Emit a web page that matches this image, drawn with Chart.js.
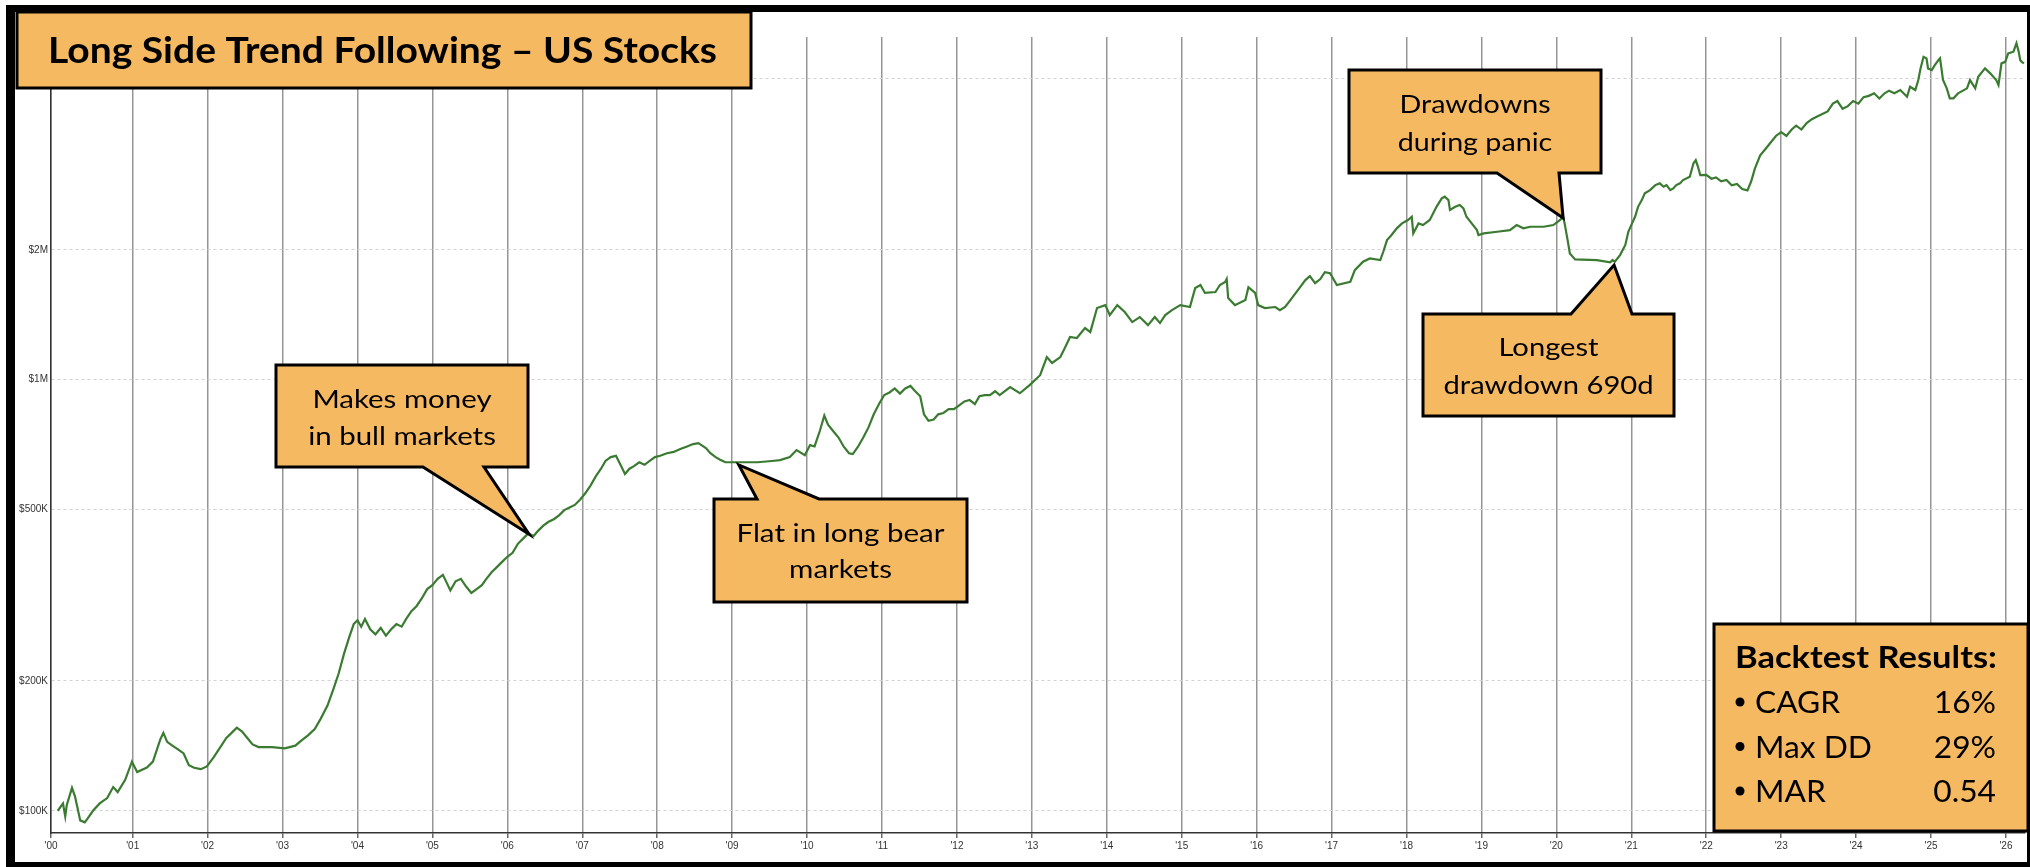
<!DOCTYPE html>
<html><head><meta charset="utf-8">
<script src="https://cdn.jsdelivr.net/npm/chart.js@4.4.1/dist/chart.umd.min.js"></script>
<style>
html,body{margin:0;padding:0;background:#fff;}
#wrap{position:absolute;left:0;top:0;width:2030px;height:867px;}
canvas{display:block;}
</style></head><body>
<div id="wrap"><canvas id="c" width="2030" height="867"></canvas></div>
<script>
// ---- data (decimal year, equity in $K) ----
const years = [
2000.00,2000.07,2000.10,2000.12,2000.19,2000.23,2000.30,2000.36,2000.40,2000.47,2000.56,2000.66,2000.74,2000.80,2000.90,2000.99,
2001.06,2001.19,2001.27,2001.37,2001.41,2001.46,2001.53,2001.61,2001.68,2001.75,2001.82,2001.91,2001.99,
2002.08,2002.17,2002.25,2002.32,2002.39,2002.46,2002.53,2002.60,2002.68,2002.86,
2003.03,2003.17,2003.25,2003.34,2003.43,2003.51,2003.60,2003.68,2003.75,2003.82,2003.89,2003.95,
2004.00,2004.05,2004.10,2004.17,2004.24,2004.31,2004.38,2004.45,2004.52,2004.59,2004.65,2004.72,2004.79,2004.86,2004.93,
2005.00,2005.07,2005.14,2005.19,2005.24,2005.31,2005.38,2005.45,2005.52,2005.59,2005.66,2005.72,2005.79,2005.86,2005.93,
2006.00,2006.07,2006.14,2006.21,2006.28,2006.35,2006.41,2006.48,2006.55,2006.62,2006.69,2006.76,2006.83,2006.90,2006.97,
2007.04,2007.11,2007.18,2007.25,2007.31,2007.38,2007.45,2007.52,2007.57,2007.63,2007.69,2007.76,2007.83,2007.90,2007.97,
2008.04,2008.13,2008.22,2008.30,2008.39,2008.48,2008.55,2008.65,2008.71,2008.78,2008.84,2008.91,
2009.00,2009.17,2009.34,2009.53,2009.64,2009.77,2009.86,2009.97,
2010.04,2010.10,2010.17,2010.23,2010.28,2010.35,2010.42,2010.49,2010.56,2010.61,2010.68,2010.75,2010.82,2010.89,2010.96,
2011.03,2011.10,2011.17,2011.24,2011.31,2011.38,2011.44,2011.51,2011.56,2011.62,2011.69,2011.75,2011.82,2011.89,2011.96,
2012.03,2012.10,2012.17,2012.24,2012.30,2012.37,2012.44,2012.51,2012.57,2012.71,2012.84,2012.97,
2013.11,2013.20,2013.27,2013.38,2013.44,2013.51,2013.60,2013.71,2013.78,2013.87,2013.98,
2014.04,2014.14,2014.24,2014.34,2014.44,2014.55,2014.64,2014.71,2014.78,2014.87,2014.98,
2015.11,2015.18,2015.25,2015.31,2015.45,2015.51,2015.58,2015.60,2015.62,2015.71,2015.85,2015.89,2015.98,
2016.02,2016.11,2016.25,2016.31,2016.38,2016.45,2016.58,2016.65,2016.71,2016.78,2016.85,2016.91,2016.98,
2017.07,2017.25,2017.31,2017.42,2017.51,2017.65,2017.69,2017.74,2017.80,2017.87,2017.94,
2018.02,2018.07,2018.09,2018.16,2018.22,2018.31,2018.40,2018.47,2018.51,2018.56,2018.58,2018.65,2018.71,2018.76,2018.80,2018.87,2018.94,2018.96,
2019.03,2019.21,2019.38,2019.47,2019.56,2019.65,2019.83,2019.96,
2020.05,2020.09,2020.11,2020.15,2020.18,2020.25,2020.54,2020.72,2020.75,2020.78,2020.85,2020.92,2020.96,
2021.01,2021.05,2021.09,2021.14,2021.18,2021.25,2021.32,2021.38,2021.43,2021.47,2021.52,2021.56,2021.60,2021.65,2021.69,2021.74,2021.78,2021.83,2021.86,2021.89,2021.92,
2022.00,2022.07,2022.13,2022.20,2022.27,2022.34,2022.41,2022.48,2022.55,2022.60,2022.65,2022.72,2022.79,2022.86,2022.93,
2023.00,2023.07,2023.14,2023.20,2023.27,2023.34,2023.41,2023.48,2023.55,2023.62,2023.69,2023.75,2023.82,2023.89,2023.96,
2024.03,2024.10,2024.17,2024.24,2024.31,2024.38,2024.44,2024.51,2024.59,2024.68,2024.72,2024.79,2024.83,2024.86,2024.90,2024.94,2024.96,
2025.01,2025.05,2025.10,2025.12,2025.16,2025.21,2025.25,2025.30,2025.36,2025.48,2025.52,2025.59,2025.63,2025.72,2025.79,2025.87,2025.90,2025.94,2025.99,
2026.03,2026.10,2026.14,2026.17,2026.19,2026.21,2026.24
];
const equityK = [
100,104,97,103,113,108,95,94,96,100,104,107,113.5,110.5,118,130,
123,126,130,146.5,151.6,144.5,141.6,138.6,135.8,127.6,125.8,124.9,126.7,
133,140.5,147.5,151.6,155.9,152.7,147.5,142.5,140.5,140.5,
139.5,141.6,145.5,149.6,154.8,163.6,175.4,191.8,208.4,231.2,252.9,271,
276.7,267.3,278.6,263.6,256.5,265.5,254.7,263.6,271,267.3,278.6,290.4,298.6,311.2,326.7,
333.6,345.2,352.5,338.2,324.5,340.6,345.2,331.2,320,326.7,333.6,345.2,357.4,367.4,377.9,
388.3,396.6,416.1,427.8,439.8,433.8,445.9,458.6,468.1,474.6,484.6,498.2,505.1,512.1,526.6,
545,567.9,596.3,621.5,647.7,661.3,665.8,630.1,604.5,621.5,630.1,643.3,634.5,647.7,661.3,
665.8,675.2,679.9,689.4,699,708.8,712.7,694.1,675.2,661.3,652.2,643.3,
643.3,643.3,643.3,647.7,650.7,661.3,686.5,668.2,
705,700,760,825,786,759,734,699,675,672,699,734,775,831,878,
921,934,954,928,954,967,941,915,831,803,808,831,837,854,854,
872,890,897,878,915,921,921,940,921,961,930,971,
1024,1128,1093,1128,1184,1256,1249,1317,1289,1466,1489,
1412,1489,1435,1360,1397,1338,1397,1353,1412,1450,1489,
1474,1631,1658,1589,1597,1658,1685,1712,1546,1489,1530,1639,1589,
1489,1466,1474,1450,1474,1530,1639,1702,1739,1675,1712,1776,1766,
1658,1687,1795,1877,1911,1894,1980,2107,2165,2244,2304,
2346,2387,2184,2304,2284,2346,2517,2633,2657,2609,2474,2517,2542,2497,2387,2304,2223,2165,
2184,2203,2223,2284,2244,2263,2263,2284,
2346,2387,2304,2107,1962,1901,1894,1871,1894,1877,1945,2053,2203,
2304,2387,2517,2609,2705,2752,2827,2853,2802,2827,2752,2777,2827,2853,2904,2931,2956,3176,3231,3117,2983,
2986,2925,2945,2885,2905,2825,2845,2767,2748,2885,3091,3313,3429,3550,3675,
3752,3675,3804,3884,3804,3938,4020,4077,4133,4191,4368,4429,4249,4310,4429,
4368,4522,4553,4616,4491,4616,4681,4616,4697,4531,4779,4697,4954,5272,5609,5563,5272,
5224,5367,5514,5563,4954,4739,4494,4494,4613,4739,4954,4739,5044,5272,5135,4954,4822,5416,5461,
5712,5763,6029,5763,5514,5461,5416
];
const yearTicks = [2001,2002,2003,2004,2005,2006,2007,2008,2009,2010,2011,2012,2013,2014,2015,2016,2017,2018,2019,2020,2021,2022,2023,2024,2025,2026];
const valueTicks = [100000,200000,500000,1000000,2000000,5000000];
const valueTickLabels = ['$100K','$200K','$500K','$1M','$2M','$5M'];
const titleText = 'Long Side Trend Following \u2013 US Stocks';
const statsTitle = 'Backtest Results:';
const statNames = ['CAGR','Max DD','MAR'];
const statValues = ['16%','29%','0.54'];
const callouts = [
  {lines:['Makes money','in bull markets'], fit:'Makes money', fitW:179, box:[276,365,528,467], side:'bottom', base:[423,484], tip:[2006.29,438000], base1:408, gap:37},
  {lines:['Flat in long bear','markets'], fit:'Flat in long bear', fitW:208, box:[714,499,967,602], side:'top', base:[757,819], tip:[2009.09,634000], base1:542, gap:36},
  {lines:['Drawdowns','during panic'], fit:'Drawdowns', fitW:151, box:[1349,70,1601,173], side:'bottom', base:[1497,1559], tip:[2020.09,2371000], base1:113, gap:38},
  {lines:['Longest','drawdown 690d'], fit:'drawdown 690d', fitW:210, box:[1423,314,1674,416], side:'top', base:[1571,1632], tip:[2020.77,1844000], base1:356, gap:38}
];

const BOX_FILL = '#F5BA61';
const FONT = 'Lato, "Open Sans", sans-serif';
const CAP = 0.7165; // Lato cap-height ratio

// font size from cap height, horizontal squeeze from target width
function textStyle(ctx, weight, capH, refText, refW){
  const size = capH / CAP;
  ctx.font = weight + ' ' + size + 'px ' + FONT;
  const sx = refText ? refW / ctx.measureText(refText).width : 1;
  return {font: ctx.font, sx};
}
function drawText(ctx, st, text, x, y, align){
  ctx.save();
  ctx.font = st.font;
  ctx.textAlign = align;
  ctx.textBaseline = 'alphabetic';
  ctx.translate(x, y);
  ctx.scale(st.sx, 1);
  ctx.fillText(text, 0, 0);
  ctx.restore();
}

const overlay = {
  id:'overlay',
  afterDraw(chart){
    const ctx = chart.ctx;
    const xs = chart.scales.x, ys = chart.scales.y;
    ctx.save();
    // outer frame
    ctx.fillStyle = '#000';
    ctx.fillRect(6,5,2024,7);
    ctx.fillRect(6,5,9,862);
    ctx.fillRect(2027,5,3,862);
    ctx.fillRect(6,862,2024,5);

    ctx.lineWidth = 3;
    ctx.lineJoin = 'miter';
    ctx.strokeStyle = '#000';
    // title box
    ctx.fillStyle = BOX_FILL;
    ctx.beginPath(); ctx.rect(17,12,734,76); ctx.fill(); ctx.stroke();
    ctx.fillStyle = '#000';
    const ts = textStyle(ctx, 'bold', 25.5, titleText, 669);
    drawText(ctx, ts, titleText, 382.5, 63, 'center');

    // callouts
    callouts.forEach(c => {
      const [l,t,r,b] = c.box;
      const tx = xs.getPixelForValue(c.tip[0]);
      const ty = ys.getPixelForValue(c.tip[1]);
      ctx.beginPath();
      if (c.side === 'bottom') {
        ctx.moveTo(l,t); ctx.lineTo(r,t); ctx.lineTo(r,b);
        ctx.lineTo(c.base[1],b); ctx.lineTo(tx,ty); ctx.lineTo(c.base[0],b);
        ctx.lineTo(l,b); ctx.closePath();
      } else {
        ctx.moveTo(l,t); ctx.lineTo(c.base[0],t); ctx.lineTo(tx,ty); ctx.lineTo(c.base[1],t);
        ctx.lineTo(r,t); ctx.lineTo(r,b); ctx.lineTo(l,b); ctx.closePath();
      }
      ctx.fillStyle = BOX_FILL; ctx.fill(); ctx.stroke();
      ctx.fillStyle = '#000';
      const st = textStyle(ctx, 'normal', 18.5, c.fit, c.fitW);
      c.lines.forEach((ln,i) => drawText(ctx, st, ln, (l+r)/2, c.base1 + i*c.gap, 'center'));
    });

    // backtest box
    ctx.beginPath(); ctx.rect(1714,624,314,207);
    ctx.fillStyle = BOX_FILL; ctx.fill(); ctx.stroke();
    ctx.fillStyle = '#000';
    const bs = textStyle(ctx, 'bold', 22, statsTitle, 262);
    drawText(ctx, bs, statsTitle, 1735, 668, 'left');
    const rs = textStyle(ctx, 'normal', 22, 'Max DD', 117);
    statNames.forEach((n,i) => {
      const bl = 713 + i*44.5;
      ctx.beginPath(); ctx.arc(1740, bl-11, 4.5, 0, Math.PI*2); ctx.fill();
      drawText(ctx, rs, n, 1755, bl, 'left');
      drawText(ctx, rs, statValues[i], 1996, bl, 'right');
    });
    ctx.restore();
  }
};

const tickFont = {family:'"Liberation Sans", Arial, sans-serif', size:10};

new Chart(document.getElementById('c'), {
  type:'line',
  data:{datasets:[{
    data: years.map((y,i)=>({x:y, y:equityK[i]*1000})),
    borderColor:'#3b7b31', borderWidth:2.2, pointRadius:0, tension:0, fill:false
  }]},
  options:{
    responsive:false, animation:false, devicePixelRatio:1,
    layout:{padding:{top:37,right:5,left:0,bottom:0}},
    plugins:{legend:{display:false}, tooltip:{enabled:false}},
    scales:{
      x:{
        type:'linear', min:1999.91, max:2026.254,
        afterBuildTicks:(sc)=>{ sc.ticks = [{value:sc.min}].concat(yearTicks.map(v=>({value:v}))); },
        afterFit:(sc)=>{ sc.height = 34; },
        ticks:{autoSkip:false, maxRotation:0, minRotation:0, padding:2, color:'#333', font:tickFont,
          callback:(v)=>"'" + String(Math.round(v)).slice(2)},
        grid:{color:'#959595', lineWidth:1.5, tickLength:5, tickColor:'#666'},
        border:{color:'#333', width:1.5}
      },
      y:{
        type:'logarithmic', min:88800, max:6235000,
        afterBuildTicks:(sc)=>{ sc.ticks = valueTicks.map(v=>({value:v})); },
        afterFit:(sc)=>{ sc.width = 51; },
        ticks:{padding:3, color:'#333', font:tickFont,
          callback:(v)=>{ const i = valueTicks.indexOf(v); return i>=0 ? valueTickLabels[i] : ''; }},
        grid:{color:'#d2d2d2', lineWidth:1, drawTicks:false},
        border:{color:'#333', width:1.5, dash:[3,3]}
      }
    }
  },
  plugins:[overlay]
});
</script>
</body></html>
